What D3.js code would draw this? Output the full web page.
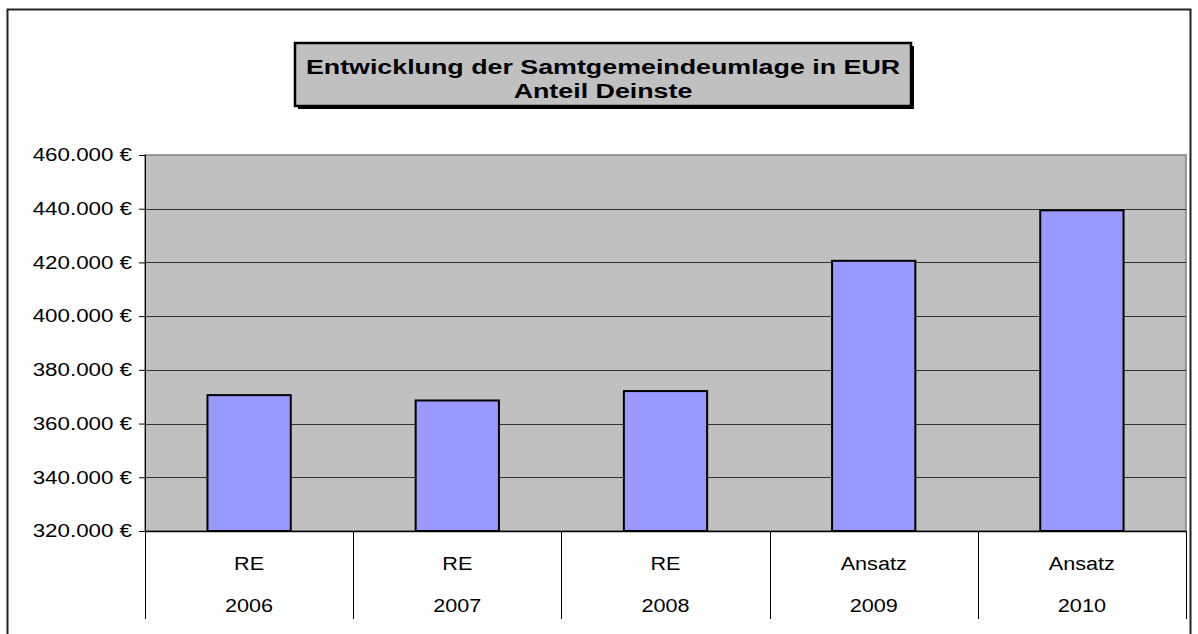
<!DOCTYPE html>
<html>
<head>
<meta charset="utf-8">
<script src="https://cdn.jsdelivr.net/npm/d3@7"></script>
<style>
  body { margin: 0; background: #fff; }
  text { font-family: Arial, "Liberation Sans", sans-serif; fill: #000; }
</style>
</head>
<body>
<script>
// data
const years = ["2006", "2007", "2008", "2009", "2010"];
const kinds = ["RE", "RE", "RE", "Ansatz", "Ansatz"];
const values = [370600, 368600, 372100, 420600, 439400];
const yTicks = [320000, 340000, 360000, 380000, 400000, 420000, 440000, 460000];
const titleLines = ["Entwicklung der Samtgemeindeumlage in EUR", "Anteil Deinste"];

const W = 1198, H = 634;
const plot = { left: 145, right: 1186, top: 155, bottom: 531 };
const axisBottom = 619;
const STRETCH = 1.24; // the original text is drawn a bit wide

// widen text horizontally, keep its anchor
function stretch(sel, f) {
  sel.each(function() {
    const len = this.getComputedTextLength();
    d3.select(this).attr("textLength", len * f).attr("lengthAdjust", "spacingAndGlyphs");
  });
}

const svg = d3.select("body").append("svg")
  .attr("width", W).attr("height", H);

svg.append("rect").attr("width", W).attr("height", H).attr("fill", "#fff");

// outer chart frame
svg.append("rect")
  .attr("x", 7.5).attr("y", 9.5)
  .attr("width", 1183).attr("height", 660)
  .attr("fill", "none").attr("stroke", "#222").attr("stroke-width", 2);

const x = d3.scaleBand()
  .domain(years)
  .range([plot.left, plot.right])
  .paddingInner(0.6).paddingOuter(0.3);

const y = d3.scaleLinear()
  .domain([320000, 460000])
  .range([plot.bottom, plot.top]);

// plot area
svg.append("rect")
  .attr("x", plot.left).attr("y", plot.top)
  .attr("width", plot.right - plot.left).attr("height", plot.bottom - plot.top)
  .attr("fill", "#c0c0c0").attr("stroke", "#808080").attr("stroke-width", 1.5);

// gridlines
svg.append("g").selectAll("line")
  .data(yTicks.slice(1, -1))
  .join("line")
  .attr("x1", plot.left).attr("x2", plot.right)
  .attr("y1", d => Math.round(y(d)) + 0.5).attr("y2", d => Math.round(y(d)) + 0.5)
  .attr("stroke", "#333").attr("stroke-width", 1);

// y axis
const fmt = d => d3.format(",")(d).replace(/,/g, ".") + " €";
const yAxis = svg.append("g")
  .attr("transform", `translate(${plot.left},0)`)
  .call(d3.axisLeft(y).tickValues(yTicks).tickFormat(fmt).tickSize(6).tickPadding(7));
yAxis.select(".domain").remove();
yAxis.selectAll(".tick line").attr("stroke", "#000");
yAxis.selectAll(".tick text")
  .style("font-size", "18px")
  .attr("fill", "#000")
  .call(stretch, STRETCH);

// left axis line extended down through category rows
svg.append("line")
  .attr("x1", plot.left + 0.5).attr("x2", plot.left + 0.5)
  .attr("y1", plot.top).attr("y2", axisBottom)
  .attr("stroke", "#000");
svg.append("line")
  .attr("x1", plot.left).attr("x2", plot.right)
  .attr("y1", plot.bottom + 0.5).attr("y2", plot.bottom + 0.5)
  .attr("stroke", "#000").attr("stroke-width", 1.5);

// category separators
const step = (plot.right - plot.left) / years.length;
svg.append("g").selectAll("line")
  .data(d3.range(1, years.length + 1))
  .join("line")
  .attr("x1", i => Math.round(plot.left + i * step) + 0.5)
  .attr("x2", i => Math.round(plot.left + i * step) + 0.5)
  .attr("y1", plot.bottom).attr("y2", axisBottom)
  .attr("stroke", "#000");

// bars
svg.append("g").selectAll("rect")
  .data(values)
  .join("rect")
  .attr("x", (d, i) => x(years[i]))
  .attr("y", d => y(d))
  .attr("width", x.bandwidth())
  .attr("height", d => y(320000) - y(d))
  .attr("fill", "#9999ff")
  .attr("stroke", "#000").attr("stroke-width", 2);

// two-level category labels
const cats = svg.append("g");
cats.selectAll("text.kind")
  .data(kinds)
  .join("text").attr("class", "kind")
  .attr("x", (d, i) => x(years[i]) + x.bandwidth() / 2)
  .attr("y", 570)
  .attr("text-anchor", "middle")
  .style("font-size", "18px")
  .text(d => d)
  .call(stretch, 1.2);
cats.selectAll("text.year")
  .data(years)
  .join("text").attr("class", "year")
  .attr("x", d => x(d) + x.bandwidth() / 2)
  .attr("y", 612)
  .attr("text-anchor", "middle")
  .style("font-size", "18px")
  .text(d => d)
  .call(stretch, 1.2);

// title box with shadow
const tb = { x: 295, y: 43, w: 616, h: 63 };
svg.append("rect")
  .attr("x", tb.x + 3).attr("y", tb.y + 3)
  .attr("width", tb.w).attr("height", tb.h)
  .attr("fill", "#000");
svg.append("rect")
  .attr("x", tb.x).attr("y", tb.y)
  .attr("width", tb.w).attr("height", tb.h)
  .attr("fill", "#c0c0c0").attr("stroke", "#000").attr("stroke-width", 2.5);
svg.append("g").selectAll("text")
  .data(titleLines)
  .join("text")
  .attr("x", tb.x + tb.w / 2)
  .attr("y", (d, i) => 74 + i * 24)
  .attr("text-anchor", "middle")
  .style("font-size", "20px").style("font-weight", "bold")
  .text(d => d)
  .call(stretch, 1.34);
</script>
</body>
</html>
